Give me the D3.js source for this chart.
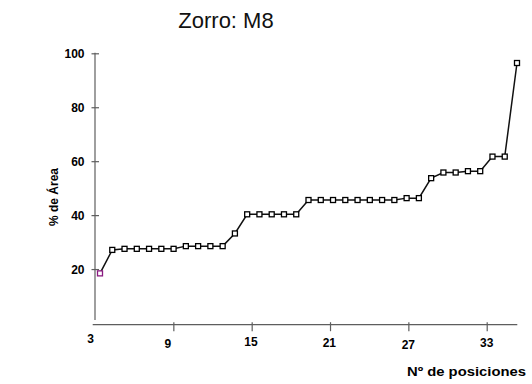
<!DOCTYPE html>
<html>
<head>
<meta charset="utf-8">
<script src="https://cdn.jsdelivr.net/npm/d3@7"></script>
<style>
  html, body { margin: 0; padding: 0; background: #fff; }
  svg { display: block; font-family: "Liberation Sans", Arial, sans-serif; }
</style>
</head>
<body>
<svg id="chart" width="532" height="384"></svg>
<script>
// ---- data ----
const title = "Zorro: M8";
const xTitle = "Nº de posiciones";
const yTitle = "% de Área";
const areaValues = [18.4, 27.1, 27.5, 27.5, 27.5, 27.5, 27.5, 28.5, 28.5, 28.5, 28.5,
  33.2, 40.3, 40.3, 40.3, 40.3, 40.3, 45.6, 45.6, 45.6, 45.6, 45.6, 45.6, 45.6, 45.6,
  46.3, 46.3, 53.7, 55.8, 55.8, 56.3, 56.3, 61.7, 61.7, 96.4];
const xTickValues = [9, 15, 21, 27, 33];
const xTickLabels = ["3", "9", "15", "21", "27", "33"];
const yTickValues = [20, 40, 60, 80, 100];

// ---- layout ----
const svg = d3.select("#chart");
const axisColor = "#5e5e5e";
const y = d3.scaleLinear().domain([0, 100]).range([323, 53.3]);
const xAxisScale = d3.scaleLinear().domain([3, 33]).range([95, 486.7]);
const xPoint = d3.scalePoint().domain(d3.range(areaValues.length)).range([100, 517]);

// title
svg.append("text").attr("x", 226).attr("y", 28).attr("text-anchor", "middle")
  .attr("font-size", 22).attr("fill", "#111").text(title);

// y axis
const yAxisG = svg.append("g").attr("transform", "translate(95,0)")
  .call(d3.axisLeft(y).tickValues(yTickValues).tickSize(0).tickFormat(d3.format("d")));
yAxisG.select(".domain").remove();
yAxisG.append("line").attr("x1", 0).attr("x2", 0).attr("y1", 52.7).attr("y2", 320)
  .attr("stroke", axisColor).attr("stroke-width", 1.2);
yAxisG.selectAll(".tick").append("line").attr("x1", -3.5).attr("x2", 4).attr("y1", 0).attr("y2", 0)
  .attr("stroke", axisColor).attr("stroke-width", 1.2);
yAxisG.selectAll(".tick text").attr("x", -10.5).attr("dy", "0.35em")
  .attr("font-size", 12).attr("font-weight", "bold").attr("fill", "#000")
  .attr("font-family", "Liberation Sans, Arial, sans-serif");

// x axis
const xAxisG = svg.append("g").attr("transform", "translate(0,324.7)");
xAxisG.append("line").attr("x1", 92.7).attr("x2", 517.3).attr("y1", 0).attr("y2", 0)
  .attr("stroke", axisColor).attr("stroke-width", 1.2);
const xAx = xAxisG.append("g")
  .call(d3.axisBottom(xAxisScale).tickValues(xTickValues).tickSize(0).tickFormat(d3.format("d")));
xAx.select(".domain").remove();
xAx.selectAll(".tick").append("line").attr("y1", -2.5).attr("y2", 6.5)
  .attr("stroke", axisColor).attr("stroke-width", 1.2);
xAx.selectAll(".tick text").remove();
// labels (slightly staggered as in the original)
const nudge = { "3": [-4.3, 18], "9": [-5.6, 23.6], "15": [-0.7, 21.3], "21": [-0.7, 22.3], "27": [0, 24], "33": [0, 22] };
xTickLabels.forEach(lbl => {
  const v = +lbl;
  svg.append("text")
    .attr("x", xAxisScale(v) + nudge[lbl][0])
    .attr("y", 324.7 + nudge[lbl][1])
    .attr("text-anchor", "middle").attr("font-size", 12).attr("font-weight", "bold")
    .attr("fill", "#000").text(lbl);
});

// axis titles
svg.append("text").attr("transform", "translate(57.5,197) rotate(-90)")
  .attr("text-anchor", "middle").attr("font-size", 12).attr("font-weight", "bold")
  .attr("fill", "#000").text(yTitle);
svg.append("text").attr("x", 407).attr("y", 376)
  .attr("font-size", 12.5).attr("font-weight", "bold").attr("fill", "#000")
  .attr("textLength", 119).attr("lengthAdjust", "spacingAndGlyphs").text(xTitle);

// line
const line = d3.line().x((d, i) => xPoint(i)).y(d => y(d));
svg.append("path").datum(areaValues).attr("d", line)
  .attr("fill", "none").attr("stroke", "#111").attr("stroke-width", 1.5);

// markers
const s = 5;
svg.selectAll("rect.mk").data(areaValues).enter().append("rect")
  .attr("class", "mk")
  .attr("x", (d, i) => xPoint(i) - s / 2).attr("y", d => y(d) - s / 2)
  .attr("width", s).attr("height", s)
  .attr("fill", "#fff")
  .attr("stroke", (d, i) => i === 0 ? "#8a1a80" : "#000").attr("stroke-width", 1.3);
</script>
</body>
</html>
